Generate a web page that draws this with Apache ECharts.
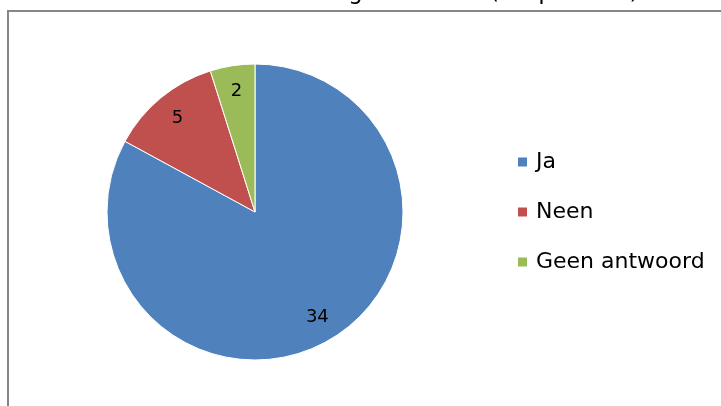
<!DOCTYPE html>
<html><head><meta charset="utf-8">
<script src="https://cdn.jsdelivr.net/npm/echarts@6/dist/echarts.min.js"></script>
<style>html,body{margin:0;padding:0;background:#fff}#c{width:721px;height:406px}</style>
</head><body><div id="c"></div>
<script>
const categories = ['Ja', 'Neen', 'Geen antwoord'];
const values = [34, 5, 2];
const colors = ['#4F81BD', '#C0504D', '#9BBB59'];
const titleText = 'Grafiek 3: Wil u de informatie gebundeld? (frequenties)';

const data = categories.map((n, i) => ({ name: n, value: values[i], itemStyle: { color: colors[i] } }));
const chart = echarts.init(document.getElementById('c'));
chart.setOption({
  animation: false,
  graphic: [
    { type: 'rect', shape: { x: 8, y: 11, width: 800, height: 500 }, style: { fill: 'none', stroke: '#878787', lineWidth: 2 }, z: -1 },
    { type: 'text', left: 2, top: -18, style: { text: titleText, font: '23px "DejaVu Sans", sans-serif', fill: '#000' } }
  ],
  legend: {
    orient: 'vertical', left: 511, top: 146, itemGap: 28, itemWidth: 11, itemHeight: 11,
    icon: 'rect', data: categories,
    textStyle: { fontFamily: '"DejaVu Sans", sans-serif', fontSize: 22, color: '#000', padding: [0, 0, 0, 3] }
  },
  series: [
    {
      type: 'pie', center: [255, 212], radius: [0, 148], startAngle: 90, clockwise: true,
      data: data, label: { show: false }, labelLine: { show: false },
      itemStyle: { borderColor: '#fff', borderWidth: 1 }, emphasis: { disabled: true }
    },
    {
      type: 'pie', center: [255, 212], radius: [0, 238], startAngle: 90, clockwise: true, silent: true,
      data: data.map(d => ({ name: d.name, value: d.value, itemStyle: { color: 'rgba(0,0,0,0)' } })),
      itemStyle: { borderWidth: 0 },
      label: { show: true, position: 'inside', formatter: '{c}', fontFamily: '"DejaVu Sans", sans-serif', fontSize: 18, color: '#000' },
      labelLine: { show: false }, emphasis: { disabled: true }, z: 3
    }
  ]
});
</script></body></html>
